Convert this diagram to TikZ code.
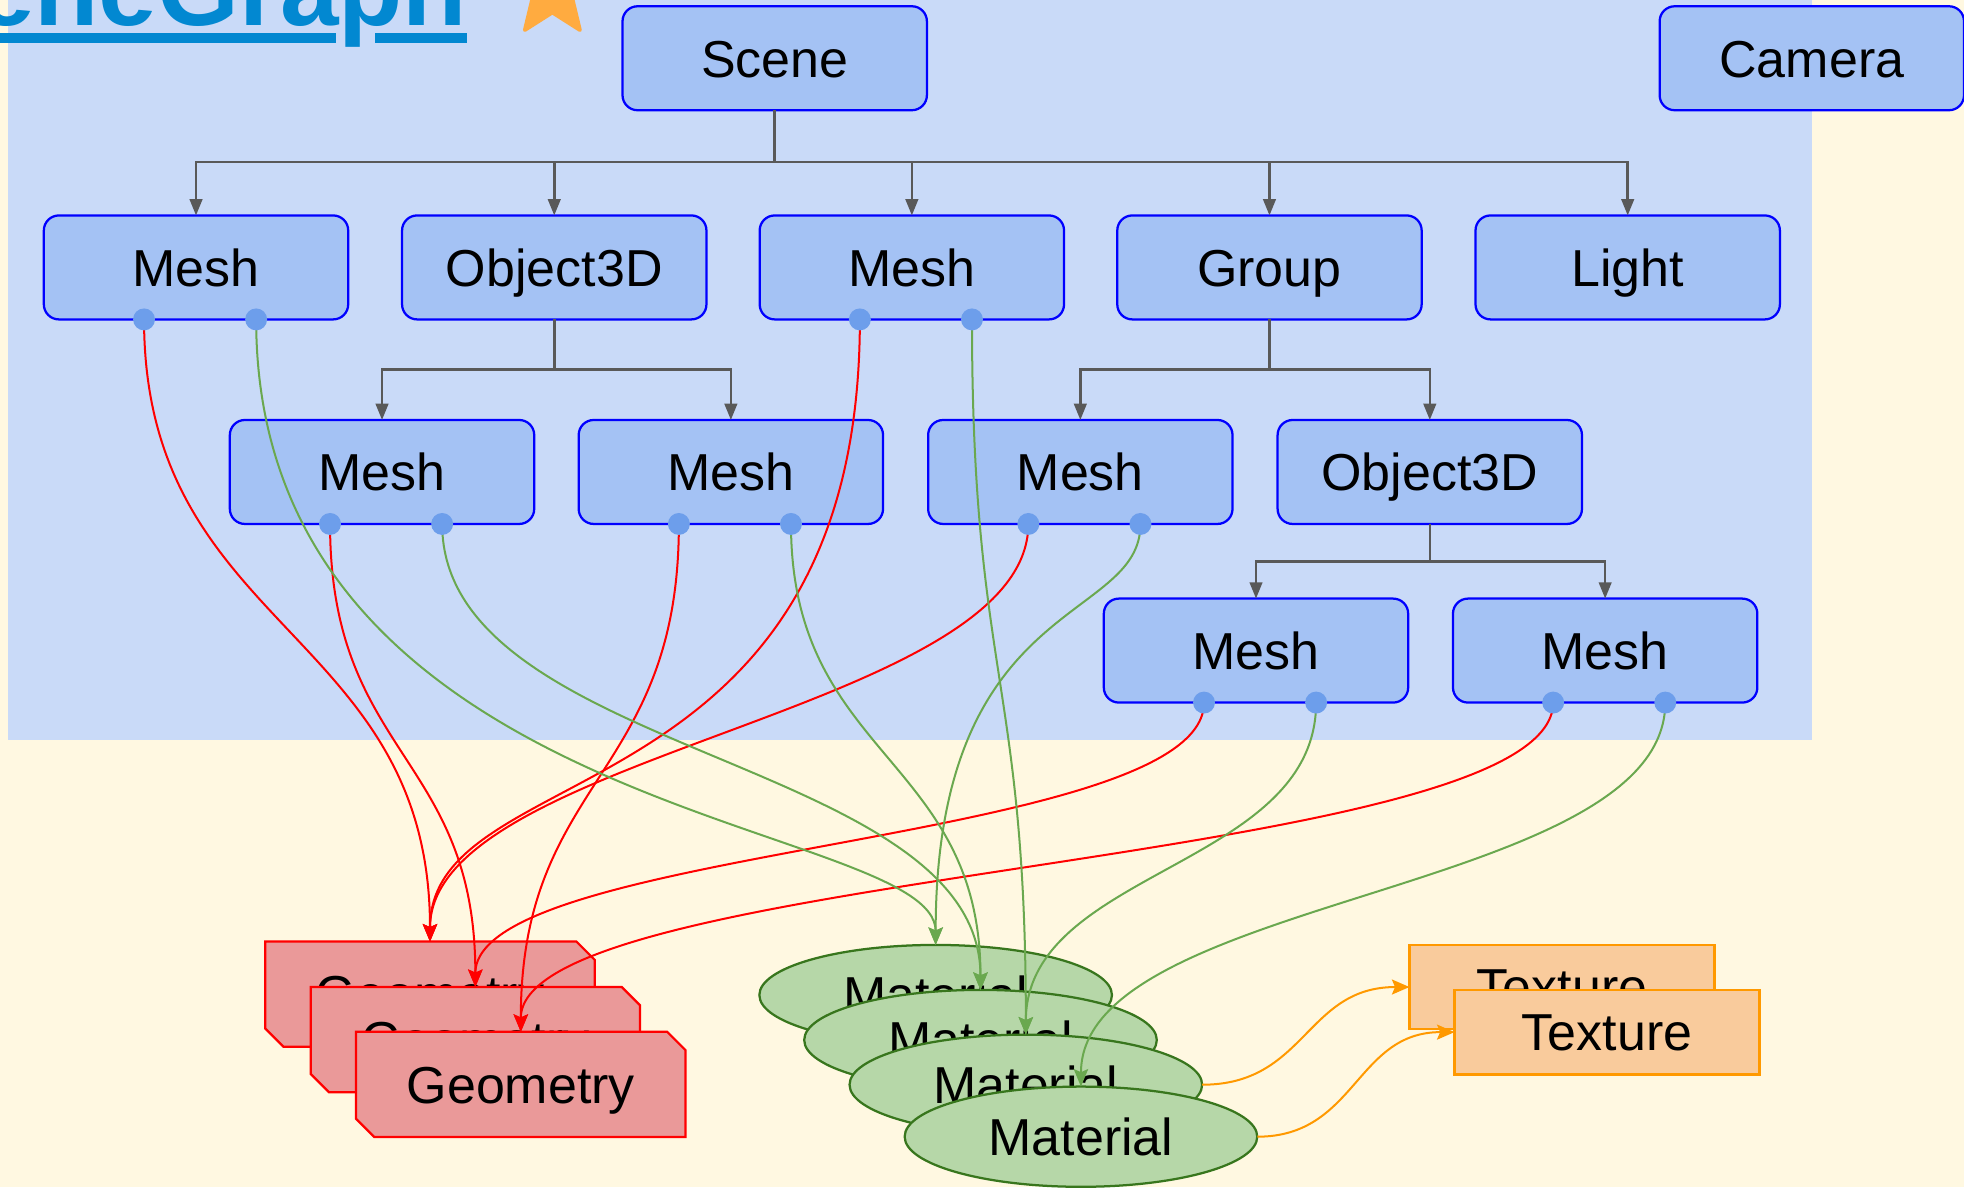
\documentclass[tikz,border=0pt]{standalone}
\usepackage{fontspec}
\setmainfont{Liberation Sans}
\usetikzlibrary{arrows.meta,shapes.geometric}
\pgfdeclarelayer{front}
\pgfsetlayers{main,front}
\definecolor{cream}{HTML}{FFF8E1}
\definecolor{bgblue}{HTML}{C9DAF8}
\definecolor{boxblue}{HTML}{A4C2F4}
\definecolor{dotblue}{HTML}{6D9EEB}
\definecolor{treegray}{HTML}{595959}
\definecolor{geofill}{HTML}{EA9999}
\definecolor{matfill}{HTML}{B6D7A8}
\definecolor{matline}{HTML}{38761D}
\definecolor{greenline}{HTML}{6AA84F}
\definecolor{texfill}{HTML}{F9CB9C}
\definecolor{orangeline}{HTML}{FF9900}
\definecolor{titleblue}{HTML}{0288D1}
\definecolor{starorange}{HTML}{FFAB40}
\begin{document}
\begin{tikzpicture}[x=1pt,y=-1pt,
  lbl/.style={font=\fontsize{41.5pt}{50pt}\selectfont, text height=30pt, text depth=0pt, inner sep=0pt, outer sep=0pt},
  objbox/.style={lbl, draw=blue, fill=boxblue, line width=1.8pt, rounded corners=12pt, minimum width=243pt, minimum height=83pt},
  geoarea/.style={inner sep=0pt, outer sep=0pt, minimum width=263pt, minimum height=84pt},
  geoline/.style={draw=red, fill=geofill, line width=1.8pt, line join=miter},
  matnode/.style={lbl, ellipse, draw=matline, fill=matfill, line width=1.8pt, minimum width=281.5pt, minimum height=80pt},
  texnode/.style={lbl, rectangle, draw=orangeline, fill=texfill, line width=1.8pt, minimum width=243.5pt, minimum height=67.5pt},
  dot/.style={circle, fill=dotblue, draw=none, minimum size=17.5pt, inner sep=0pt, outer sep=0pt},
  treeline/.style={draw=treegray, line width=2pt, -{Triangle[length=13pt,width=10pt]}},
  redarrow/.style={draw=red, line width=1.6pt, -{Stealth[length=14pt,width=11.5pt,inset=2.5pt]}},
  greenarrow/.style={draw=greenline, line width=1.6pt, -{Stealth[length=14pt,width=11.5pt,inset=2.5pt]}},
  orangearrow/.style={draw=orangeline, line width=1.6pt, -{Stealth[length=14pt,width=12pt,inset=2.5pt]}}
]
\useasboundingbox (0,0) rectangle (1568,948);
% backgrounds
\fill[cream] (0,0) rectangle (1568,948);
\fill[bgblue] (6,-20) rectangle (1447,591);

% title and star
\node[anchor=base east, inner sep=0pt, outer sep=0pt, text=titleblue, font=\fontsize{84pt}{90pt}\selectfont\bfseries] (title) at (373,20.5) {SceneGraph};
\fill[titleblue] (-200,26.6) rectangle (268,34.3);
\fill[titleblue] (299,26.6) rectangle (373,34.3);
\filldraw[fill=starorange, draw=starorange, line width=3pt, line join=round]
  (441,-44) -- (451,-19.5) -- (477,-18) -- (457,-1) -- (463,24) -- (441,10)
  -- (419,24) -- (425,-1) -- (405,-18) -- (431,-19.5) -- cycle;

% object nodes
\node[objbox] (scene) at (618.5,46.5) {Scene};
\node[objbox] (camera) at (1446.5,46.5) {Camera};
\node[objbox] (m1) at (156.5,213.5) {Mesh};
\node[objbox] (o1) at (442.5,213.5) {Object3D};
\node[objbox] (m2) at (728,213.5) {Mesh};
\node[objbox] (grp) at (1013.5,213.5) {Group};
\node[objbox] (light) at (1299.5,213.5) {Light};
\node[objbox] (m3) at (305,376.8) {Mesh};
\node[objbox] (m4) at (583.5,376.8) {Mesh};
\node[objbox] (m5) at (862.5,376.8) {Mesh};
\node[objbox] (o2) at (1141.5,376.8) {Object3D};
\node[objbox] (m6) at (1002.75,519.4) {Mesh};
\node[objbox] (m7) at (1281.5,519.4) {Mesh};

% tree connectors
\foreach \c in {m1,o1,m2,grp,light}
  \draw[treeline] (scene.south) -- ++(0,41.5) -| (\c.north);
\foreach \c in {m3,m4}
  \draw[treeline] (o1.south) -- ++(0,40) -| (\c.north);
\foreach \c in {m5,o2}
  \draw[treeline] (grp.south) -- ++(0,40) -| (\c.north);
\foreach \c in {m6,m7}
  \draw[treeline] (o2.south) -- ++(0,30) -| (\c.north);

% geometry
\node[geoarea] (geo1) at (343.3,793.7) {};
\draw[geoline] (geo1.north west) -- ([xshift=-14.6pt]geo1.north east) -- ([yshift=-14.6pt]geo1.north east) -- (geo1.south east) -- ([xshift=14.6pt]geo1.south west) -- ([yshift=14.6pt]geo1.south west) -- cycle;
\node[lbl] (geo1t) at (geo1.center) {Geometry};
\node[geoarea] (geo2) at (379.5,830) {};
\draw[geoline] (geo2.north west) -- ([xshift=-14.6pt]geo2.north east) -- ([yshift=-14.6pt]geo2.north east) -- (geo2.south east) -- ([xshift=14.6pt]geo2.south west) -- ([yshift=14.6pt]geo2.south west) -- cycle;
\node[lbl] (geo2t) at (geo2.center) {Geometry};
\node[geoarea] (geo3) at (415.8,865.8) {};
\draw[geoline] (geo3.north west) -- ([xshift=-14.6pt]geo3.north east) -- ([yshift=-14.6pt]geo3.north east) -- (geo3.south east) -- ([xshift=14.6pt]geo3.south west) -- ([yshift=14.6pt]geo3.south west) -- cycle;
\node[lbl] (geo3t) at (geo3.center) {Geometry};

% materials
\node[matnode] (mat1) at (747,794.4) {Material};
\node[matnode] (mat2) at (782.8,830.3) {Material};
\node[matnode] (mat3) at (819,866) {Material};
\node[matnode] (mat4) at (863,907.5) {Material};

% textures
\node[texnode] (tex1) at (1247,788) {Texture};
\node[texnode] (tex2) at (1283,824) {Texture};

% dots on meshes
\begin{pgfonlayer}{front}
\foreach \m in {m1,m2,m3,m4,m5,m6,m7} {
  \node[dot] (\m l) at ([xshift=-41.5pt]\m.south) {};
  \node[dot] (\m r) at ([xshift=48pt]\m.south) {};
}
\end{pgfonlayer}

% geometry links
\draw[redarrow] (m1l.center) .. controls +(0,249) and +(0,-249) .. (geo1.north);
\draw[redarrow] (m2l.center) .. controls +(0,400) and +(0,-150) .. (geo1.north);
\draw[redarrow] (m5l.center) .. controls +(0,150) and +(0,-150) .. (geo1.north);
\draw[redarrow] (m3l.center) .. controls +(0,185) and +(0,-185) .. (geo2.north);
\draw[redarrow] (m6l.center) .. controls +(0,113) and +(0,-113) .. (geo2.north);
\draw[redarrow] (m4l.center) .. controls +(0,203) and +(0,-203) .. (geo3.north);
\draw[redarrow] (m7l.center) .. controls +(0,131) and +(0,-131) .. (geo3.north);

% material links
\draw[greenarrow] (m1r.center) .. controls +(0,400) and +(0,-100) .. (mat1.north);
\draw[greenarrow] (m5r.center) .. controls +(0,80) and +(0,-280) .. (mat1.north);
\draw[greenarrow] (m3r.center) .. controls +(0,186) and +(0,-186) .. (mat2.north);
\draw[greenarrow] (m4r.center) .. controls +(0,186) and +(0,-186) .. (mat2.north);
\draw[greenarrow] (m2r.center) .. controls +(0,285) and +(0,-285) .. (mat3.north);
\draw[greenarrow] (m6r.center) .. controls +(0,132) and +(0,-132) .. (mat3.north);
\draw[greenarrow] (m7r.center) .. controls +(0,153) and +(0,-153) .. (mat4.north);

% texture links
\draw[orangearrow] (mat3.east) .. controls +(83,0) and +(-83,0) .. (tex1.west);
\draw[orangearrow] (mat4.east) .. controls +(79,0) and +(-79,0) .. (tex2.west);
\end{tikzpicture}
\end{document}
